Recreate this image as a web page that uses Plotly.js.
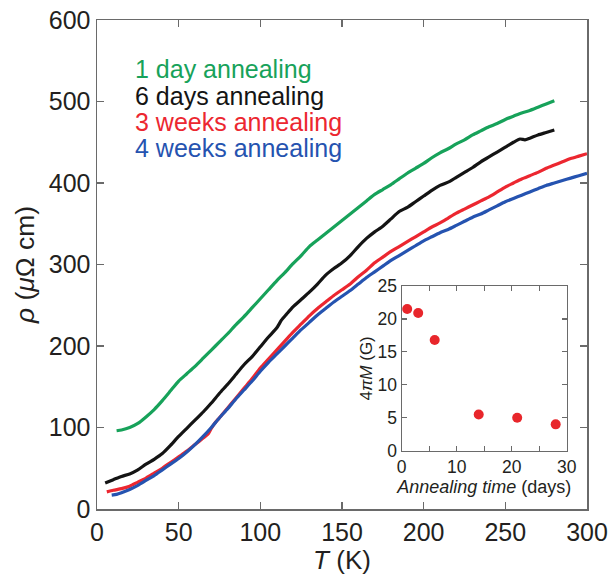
<!DOCTYPE html>
<html>
<head>
<meta charset="utf-8">
<script src="https://cdn.plot.ly/plotly-3.0.1.min.js"></script>
<style>
html,body{margin:0;padding:0;background:#fff;}
#chart{width:613px;height:576px;}
</style>
</head>
<body>
<div id="chart"></div>
<script>
// ---- Main panel data: resistivity rho (µΩ cm) vs temperature T (K) ----
const seriesNames = ["1 day annealing", "6 days annealing", "3 weeks annealing", "4 weeks annealing"];

const T_1day = [12, 15, 20, 25, 30, 35, 40, 45, 50, 55, 60, 65, 70, 75, 80, 85, 90, 95, 100, 105, 110, 115, 120, 125, 130, 135, 140, 145, 150, 155, 160, 165, 170, 175, 180, 185, 190, 195, 200, 205, 210, 215, 220, 225, 230, 235, 240, 245, 250, 255, 260, 265, 270, 275, 280];
const rho_1day = [96, 97, 100, 105, 113, 122, 133, 145, 157, 166, 175, 185, 195, 205, 215, 226, 236, 247, 258, 269, 280, 290, 301, 311, 322, 330, 338, 346, 354, 362, 370, 378, 386, 392, 398, 405, 412, 418, 424, 431, 437, 442, 448, 453, 459, 464, 469, 473, 478, 482, 486, 489, 493, 497, 501];

const T_6days = [5, 10, 15, 20, 25, 30, 35, 40, 45, 50, 55, 60, 65, 70, 75, 80, 85, 90, 95, 100, 105, 110, 113, 116, 120, 125, 130, 135, 140, 145, 150, 155, 160, 165, 170, 175, 180, 185, 190, 195, 200, 205, 210, 216, 220, 225, 230, 235, 240, 245, 250, 255, 259, 262, 265, 270, 275, 280];
const rho_6days = [32, 36, 40, 43, 48, 55, 61, 68, 78, 89, 99, 109, 119, 130, 142, 153, 165, 177, 187, 199, 211, 222, 232, 239, 248, 257, 266, 276, 287, 295, 302, 311, 322, 332, 340, 347, 356, 365, 370, 377, 384, 391, 397, 402, 407, 413, 419, 426, 432, 438, 444, 450, 454, 453, 455, 459, 462, 465];

const T_3weeks = [6, 10, 15, 20, 25, 30, 35, 40, 45, 50, 55, 60, 65, 68, 70, 72, 75, 80, 85, 90, 95, 100, 105, 110, 115, 120, 125, 130, 135, 140, 145, 150, 155, 160, 165, 170, 175, 180, 185, 190, 195, 200, 205, 210, 215, 220, 225, 230, 235, 240, 245, 250, 255, 260, 265, 270, 275, 280, 285, 290, 295, 300];
const rho_3weeks = [21, 23, 25, 28, 33, 38, 44, 50, 57, 64, 71, 79, 87, 92, 99, 105, 112, 124, 136, 148, 160, 173, 184, 195, 206, 217, 227, 237, 246, 254, 262, 269, 276, 285, 293, 302, 309, 316, 322, 328, 334, 340, 346, 351, 357, 363, 368, 373, 378, 383, 389, 395, 400, 405, 409, 413, 418, 422, 426, 430, 433, 436];

const T_4weeks = [9, 12, 15, 20, 25, 30, 35, 40, 45, 50, 55, 60, 65, 70, 75, 80, 85, 90, 95, 100, 105, 110, 115, 120, 125, 130, 135, 140, 145, 150, 155, 160, 165, 170, 175, 180, 185, 190, 195, 200, 205, 210, 215, 220, 225, 230, 235, 240, 245, 250, 255, 260, 265, 270, 275, 280, 285, 290, 295, 300];
const rho_4weeks = [17, 18, 20, 24, 29, 35, 41, 48, 55, 62, 70, 79, 89, 100, 112, 123, 135, 146, 157, 169, 180, 190, 200, 210, 220, 229, 238, 246, 254, 261, 268, 276, 284, 291, 298, 305, 311, 317, 323, 329, 334, 339, 343, 348, 353, 358, 362, 367, 372, 377, 381, 385, 389, 393, 397, 400, 403, 406, 409, 412];

// ---- Inset data: 4πM (G) vs annealing time (days) ----
const annealDays = [1, 3, 6, 14, 21, 28];
const magnetization = [21.5, 20.9, 16.8, 5.5, 5.0, 4.0];

const mainXTicks = [0, 50, 100, 150, 200, 250, 300];
const mainYTicks = [0, 100, 200, 300, 400, 500, 600];
const insetXTicks = [0, 5, 10, 15, 20, 25, 30];
const insetXLabels = ["0", "", "10", "", "20", "", "30"];
const insetYTicks = [0, 5, 10, 15, 20, 25];

const colors = ["#17a25a", "#141414", "#ec2730", "#2553b0"];
const FONT = "Liberation Sans, Arial, Helvetica, sans-serif";
const TXT = "#231f20";
const AX = "#6a6a6a";

const traces = [
  {x: T_1day, y: rho_1day, name: seriesNames[0]},
  {x: T_6days, y: rho_6days, name: seriesNames[1]},
  {x: T_3weeks, y: rho_3weeks, name: seriesNames[2]},
  {x: T_4weeks, y: rho_4weeks, name: seriesNames[3]}
].map((t, i) => Object.assign(t, {
  type: "scatter", mode: "lines", xaxis: "x", yaxis: "y",
  line: {color: colors[i], width: 3.2, shape: "spline", smoothing: 0.6},
  showlegend: false, hoverinfo: "skip"
}));

traces.push({
  x: annealDays, y: magnetization, type: "scatter", mode: "markers",
  xaxis: "x2", yaxis: "y2",
  marker: {color: "#e8262b", size: 10},
  showlegend: false, hoverinfo: "skip"
});

const annotations = seriesNames.map((n, i) => ({
  text: n, xref: "paper", yref: "paper",
  x: (134 - 97) / 490, y: (509 - [69, 96, 122, 148][i]) / 489,
  xanchor: "left", yanchor: "middle", showarrow: false, borderpad: 0,
  font: {family: FONT, size: 25, color: colors[i]}
}));

const layout = {
  width: 613, height: 576,
  margin: {l: 97, r: 26, t: 20, b: 67},
  paper_bgcolor: "#fff", plot_bgcolor: "#fff",
  font: {family: FONT, color: TXT},
  showlegend: false,
  xaxis: {
    domain: [0, 1], range: [0, 300], anchor: "y",
    tickvals: mainXTicks, ticks: "inside", ticklen: 7, tickwidth: 1.5, tickcolor: AX,
    showline: true, linecolor: AX, linewidth: 1.5, mirror: "ticks",
    showgrid: false, zeroline: false,
    tickfont: {family: FONT, size: 25, color: TXT},
    title: {text: "<i>T</i> (K)", font: {family: FONT, size: 26, color: TXT}, standoff: 2}
  },
  yaxis: {
    domain: [0, 1], range: [0, 600], anchor: "x",
    tickvals: mainYTicks, ticks: "inside", ticklen: 7, tickwidth: 1.5, tickcolor: AX,
    showline: true, linecolor: AX, linewidth: 1.5, mirror: "ticks",
    showgrid: false, zeroline: false,
    tickfont: {family: FONT, size: 25, color: TXT},
    title: {text: "<i>ρ</i> (<i>μ</i>Ω cm)", font: {family: FONT, size: 26.5, color: TXT}, standoff: 6}
  },
  xaxis2: {
    domain: [(401.7 - 97) / 490, (566.7 - 97) / 490], range: [0, 30], anchor: "y2",
    tickvals: insetXTicks, ticktext: insetXLabels,
    ticks: "inside", ticklen: 5, tickwidth: 1.2, tickcolor: AX,
    showline: true, linecolor: AX, linewidth: 1.2, mirror: "ticks",
    showgrid: false, zeroline: false,
    tickfont: {family: FONT, size: 17.5, color: TXT},
    title: {text: "<i>Annealing time</i> (days)", font: {family: FONT, size: 18, color: TXT}, standoff: 2}
  },
  yaxis2: {
    domain: [(509 - 450.7) / 489, (509 - 286) / 489], range: [0, 25], anchor: "x2",
    tickvals: insetYTicks, ticks: "inside", ticklen: 5, tickwidth: 1.2, tickcolor: AX,
    showline: true, linecolor: AX, linewidth: 1.2, mirror: "ticks",
    showgrid: false, zeroline: false,
    tickfont: {family: FONT, size: 17.5, color: TXT},
    title: {text: "4<i>πM</i> (G)", font: {family: FONT, size: 17, color: TXT}, standoff: 0}
  },
  annotations: annotations
};

Plotly.newPlot("chart", traces, layout, {staticPlot: true, displayModeBar: false});
</script>
</body>
</html>
